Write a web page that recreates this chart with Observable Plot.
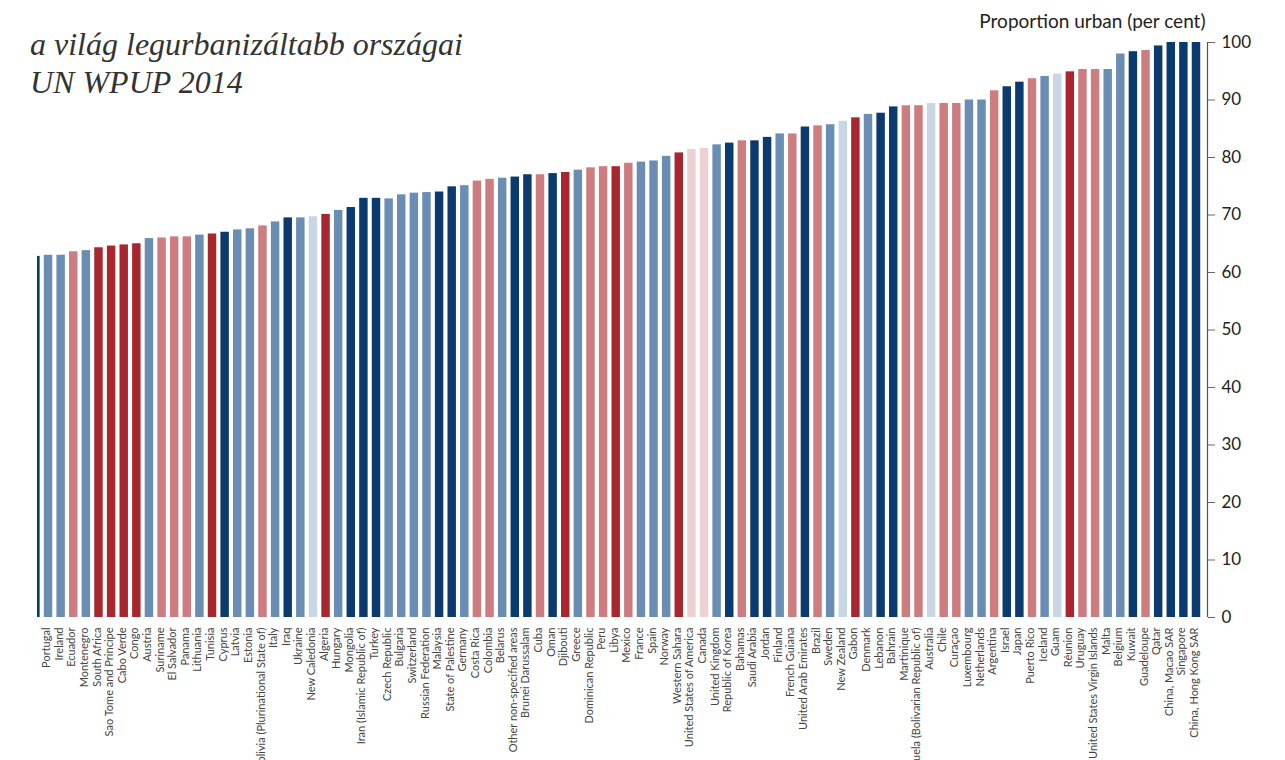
<!DOCTYPE html>
<html><head><meta charset="utf-8">
<script src="https://cdn.jsdelivr.net/npm/d3@7"></script>
<script src="https://cdn.jsdelivr.net/npm/@observablehq/plot@0.6"></script>
<style>
body{margin:0;background:#fff;}
#wrap{position:relative;width:1285px;height:760px;overflow:hidden;}
#title{position:absolute;left:30px;top:25px;font-family:"Liberation Serif","DejaVu Serif",serif;font-style:italic;font-size:32px;line-height:38px;color:#333;z-index:2;}
</style></head><body>
<div id="wrap"><div id="title">a világ legurbanizáltabb országai<br>UN WPUP 2014</div></div>
<script>
const countries = ["", "Portugal", "Ireland", "Ecuador", "Montenegro", "South Africa", "Sao Tome and Principe", "Cabo Verde", "Congo", "Austria", "Suriname", "El Salvador", "Panama", "Lithuania", "Tunisia", "Cyprus", "Latvia", "Estonia", "Bolivia (Plurinational State of)", "Italy", "Iraq", "Ukraine", "New Caledonia", "Algeria", "Hungary", "Mongolia", "Iran (Islamic Republic of)", "Turkey", "Czech Republic", "Bulgaria", "Switzerland", "Russian Federation", "Malaysia", "State of Palestine", "Germany", "Costa Rica", "Colombia", "Belarus", "Other non-specified areas", "Brunei Darussalam", "Cuba", "Oman", "Djibouti", "Greece", "Dominican Republic", "Peru", "Libya", "Mexico", "France", "Spain", "Norway", "Western Sahara", "United States of America", "Canada", "United Kingdom", "Republic of Korea", "Bahamas", "Saudi Arabia", "Jordan", "Finland", "French Guiana", "United Arab Emirates", "Brazil", "Sweden", "New Zealand", "Gabon", "Denmark", "Lebanon", "Bahrain", "Martinique", "Venezuela (Bolivarian Republic of)", "Australia", "Chile", "Curaçao", "Luxembourg", "Netherlands", "Argentina", "Israel", "Japan", "Puerto Rico", "Iceland", "Guam", "Réunion", "Uruguay", "United States Virgin Islands", "Malta", "Belgium", "Kuwait", "Guadeloupe", "Qatar", "China, Macao SAR", "Singapore", "China, Hong Kong SAR"];
const urban = [62.8, 63.0, 63.0, 63.6, 63.8, 64.3, 64.6, 64.8, 65.0, 65.9, 66.0, 66.2, 66.2, 66.5, 66.7, 67.0, 67.4, 67.6, 68.1, 68.8, 69.5, 69.5, 69.7, 70.1, 70.8, 71.3, 72.9, 72.9, 72.8, 73.5, 73.8, 73.9, 74.0, 74.9, 75.1, 75.9, 76.2, 76.4, 76.6, 77.0, 77.0, 77.2, 77.4, 77.8, 78.2, 78.4, 78.4, 79.0, 79.2, 79.4, 80.2, 80.8, 81.4, 81.6, 82.2, 82.5, 82.9, 82.9, 83.5, 84.1, 84.1, 85.3, 85.5, 85.7, 86.3, 86.9, 87.5, 87.7, 88.8, 89.0, 89.0, 89.4, 89.4, 89.4, 90.0, 90.0, 91.6, 92.3, 93.1, 93.7, 94.1, 94.5, 94.9, 95.3, 95.3, 95.3, 98.0, 98.4, 98.6, 99.4, 100, 100, 100];
const regions = ["Asia", "Europe", "Europe", "Latin America", "Europe", "Africa", "Africa", "Africa", "Africa", "Europe", "Latin America", "Latin America", "Latin America", "Europe", "Africa", "Asia", "Europe", "Europe", "Latin America", "Europe", "Asia", "Europe", "Oceania", "Africa", "Europe", "Asia", "Asia", "Asia", "Europe", "Europe", "Europe", "Europe", "Asia", "Asia", "Europe", "Latin America", "Latin America", "Europe", "Asia", "Asia", "Latin America", "Asia", "Africa", "Europe", "Latin America", "Latin America", "Africa", "Latin America", "Europe", "Europe", "Europe", "Africa", "Northern America", "Northern America", "Europe", "Asia", "Latin America", "Asia", "Asia", "Europe", "Latin America", "Asia", "Latin America", "Europe", "Oceania", "Africa", "Europe", "Asia", "Asia", "Latin America", "Latin America", "Oceania", "Latin America", "Latin America", "Europe", "Europe", "Latin America", "Asia", "Asia", "Latin America", "Europe", "Oceania", "Africa", "Latin America", "Latin America", "Europe", "Europe", "Asia", "Latin America", "Asia", "Asia", "Asia", "Asia"];
const regionNames = ["Asia", "Europe", "Latin America", "Africa", "Oceania", "Northern America"];
const regionColors = ["#0a3a6e", "#6a8db3", "#cd7c80", "#a8272e", "#c9d6e3", "#ecd0d3"];
const yTicks = [0, 10, 20, 30, 40, 50, 60, 70, 80, 90, 100];
const yTitle = "Proportion urban (per cent)";

const data = countries.map((c, i) => ({country: c, value: urban[i], region: regions[i]}));
const last = countries[countries.length - 1];

const chart = Plot.plot({
  width: 1285, height: 760,
  marginTop: 42, marginBottom: 143, marginLeft: 37, marginRight: 78,
  style: {fontFamily: "Lato, 'Open Sans', sans-serif", background: "transparent", overflow: "hidden"},
  x: {domain: countries, range: [29.1, 1202.3], paddingInner: 0.33, paddingOuter: 0.165, axis: null},
  y: {domain: [0, 100], axis: null},
  color: {domain: regionNames, range: regionColors},
  marks: [
    Plot.barY(data, {x: "country", y: "value", fill: "region", clip: true}),
    Plot.axisX({tickSize: 0, tickPadding: 10, tickRotate: -90, fontSize: 11, fill: "#444", dx: -2, label: null, tickFormat: d => d}),
    Plot.axisY({anchor: "right", ticks: yTicks, tickSize: 7, tickPadding: 7, fontSize: 17, label: null, stroke: "#666", fill: "#222"}),
    Plot.ruleX([last], {x: d => d, y1: 0, y2: 100, dx: 11, stroke: "#555", strokeWidth: 1.2}),
    Plot.text([yTitle], {frameAnchor: "top-right", dy: -28, dx: -2, textAnchor: "end", fontSize: 19, fill: "#222"})
  ]
});
document.getElementById("wrap").appendChild(chart);
</script>
</body></html>
